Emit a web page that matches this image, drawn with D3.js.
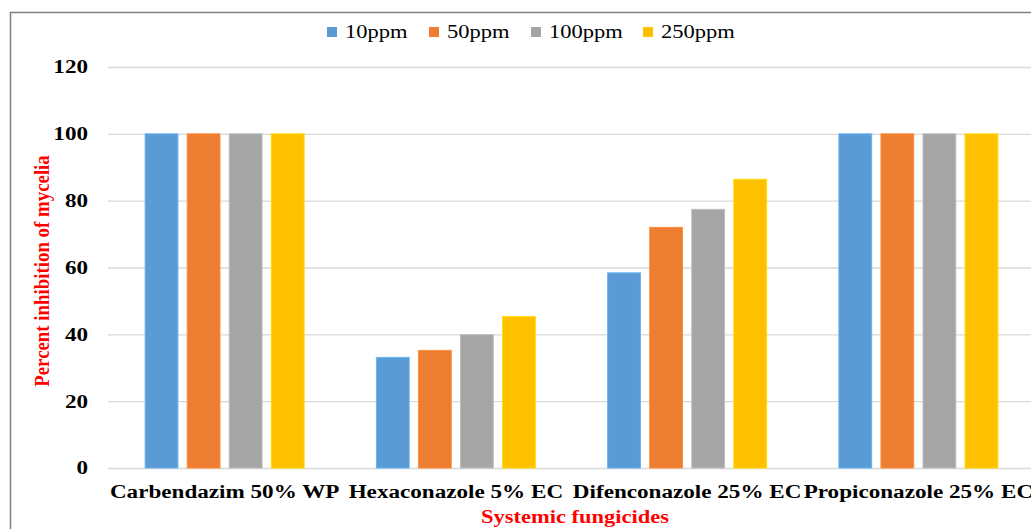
<!DOCTYPE html>
<html><head><meta charset="utf-8">
<script src="https://cdn.jsdelivr.net/npm/d3@7"></script>
<style>body{margin:0;background:#fff;overflow:hidden}svg{display:block}</style>
</head><body>
<svg id="c" width="1031" height="529"></svg>
<script>
const categories = ["Carbendazim 50% WP","Hexaconazole 5% EC","Difenconazole 25% EC","Propiconazole 25% EC"];
const seriesNames = ["10ppm","50ppm","100ppm","250ppm"];
const colors = ["#5B9BD5","#ED7D31","#A5A5A5","#FFC000"];
const s10 = [100, 33.1, 58.4, 100];
const s50 = [100, 35.2, 72.0, 100];
const s100 = [100, 39.9, 77.4, 100];
const s250 = [100, 45.3, 86.4, 100];
const yTicks = [0,20,40,60,80,100,120];
const series = [s10, s50, s100, s250];

const svg = d3.select("#c");
const serif = "'Liberation Serif','Times New Roman',serif";
const SX = 1.25;

// border
svg.append("rect").attr("x",10.5).attr("y",12.5).attr("width",1100).attr("height",600)
  .attr("fill","none").attr("stroke","#7f7f7f").attr("stroke-width",1.5);

const x0 = d3.scaleBand().domain(categories).range([109,1034]).paddingInner(0).paddingOuter(0);
const y = d3.scaleLinear().domain([0,120]).range([468,67]);
const x1 = d3.scaleBand().domain(seriesNames).range([0,159]).paddingInner(0.22).paddingOuter(0);

// gridlines
svg.append("g").selectAll("line").data(yTicks).join("line")
  .attr("x1",108).attr("x2",1031).attr("y1",d=>y(d)+0.5).attr("y2",d=>y(d)+0.5)
  .attr("stroke","#d9d9d9").attr("stroke-width",1.3);

// y axis labels
const yAxis = d3.axisLeft(y).tickValues(yTicks).tickSize(0).tickPadding(0);
const gy = svg.append("g").attr("transform","translate(88,0)").call(yAxis);
gy.select(".domain").remove();
gy.selectAll("text").attr("font-family",serif).attr("font-weight","bold").attr("font-size","18.5px").attr("fill","#000")
  .attr("transform",`scale(${SX},1)`);

// bars
const groups = svg.append("g").selectAll("g").data(categories).join("g")
  .attr("transform",d=>`translate(${x0(d)+x0.bandwidth()/2-79.5},0)`);
groups.selectAll("rect").data((d,i)=>series.map((s,j)=>({name:seriesNames[j],v:s[i],c:colors[j]}))).join("rect")
  .attr("x",d=>x1(d.name)).attr("width",x1.bandwidth())
  .attr("y",d=>y(d.v)).attr("height",d=>y(0)-y(d.v))
  .attr("fill",d=>d.c).attr("stroke",d=>d3.color(d.c).brighter(0.4)).attr("stroke-width",1);

// x axis labels
const xAxis = d3.axisBottom(x0).tickSize(0).tickPadding(0);
const gx = svg.append("g").attr("transform","translate(0,498)").call(xAxis);
gx.select(".domain").remove();
gx.selectAll("text").attr("font-family",serif).attr("font-weight","bold").attr("font-size","18.5px").attr("fill","#000")
  .attr("y",0).attr("dy",null).attr("transform",`scale(${SX},1)`);

// axis titles
svg.append("text").attr("transform",`translate(575,523) scale(${SX},1)`).attr("text-anchor","middle")
  .attr("font-family",serif).attr("font-weight","bold").attr("font-size","18px").attr("fill","#ff0000")
  .text("Systemic fungicides");
svg.append("text").attr("transform","translate(42,271) rotate(-90) scale(1.11,1.2)").attr("text-anchor","middle")
  .attr("font-family",serif).attr("font-weight","bold").attr("font-size","17px").attr("fill","#ff0000")
  .attr("dy","0.35em")
  .text("Percent inhibition of mycelia");

// legend
const legendX = [327,429,531,643];
const lg = svg.append("g").selectAll("g").data(seriesNames).join("g")
  .attr("transform",(d,i)=>`translate(${legendX[i]},27)`);
lg.append("rect").attr("width",10).attr("height",10).attr("fill",(d,i)=>colors[i]);
lg.append("text").attr("transform",`translate(18,11) scale(${SX},1)`).attr("font-family",serif).attr("font-size","18px").attr("fill","#000").text(d=>d);
</script>
</body></html>
